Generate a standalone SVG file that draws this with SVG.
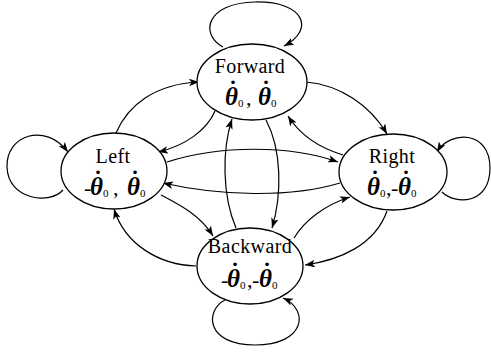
<svg xmlns="http://www.w3.org/2000/svg" width="491" height="352" viewBox="0 0 491 352">
<style>
.node ellipse{fill:#fff;stroke:#000;stroke-width:1.3}
.lbl{font-family:"Liberation Serif","Times New Roman",serif;font-size:20px;fill:#000;text-anchor:middle;letter-spacing:0.4px}
.st{font-family:"Liberation Serif","Times New Roman",serif;font-size:22px;fill:#000}
.th{font-weight:bold;font-style:italic;font-size:25px}
.sub{font-size:11px}
.dot{font-size:24px;font-weight:bold;text-anchor:middle}
.edge{fill:none;stroke:#000;stroke-width:1.2;marker-end:url(#ah)}
</style>
<defs>
<marker id="ah" markerUnits="userSpaceOnUse" markerWidth="11" markerHeight="8" refX="10" refY="3.75" orient="auto">
<path d="M0,0 L10,3.75 L0,7.5 L2.5,3.75 z" fill="#000"/>
</marker>
</defs>
<g id="connectors">
<path class="edge" d="M223,47 C200,35 205,3 255,2 C305,1 315,30 284,46"/>
<path class="edge" d="M63,190 C50,205 8,200 7,167 C6,135 45,122 68,152"/>
<path class="edge" d="M442,192 C455,205 490,205 490,168 C490,130 450,130 437,152"/>
<path class="edge" d="M225,300 C205,310 205,345 255,345 C305,345 310,310 283,298"/>
<path class="edge" d="M116,133 C128,105 155,84 199,82"/>
<path class="edge" d="M215,111 C207,130 185,146 158,152"/>
<path class="edge" d="M306,82 C340,85 370,105 387,134"/>
<path class="edge" d="M343,155 C320,148 300,135 288,116"/>
<path class="edge" d="M167,162 C220,145 290,145 338,162"/>
<path class="edge" d="M340,183 C290,198 220,196 163,183"/>
<path class="edge" d="M161,195 C180,205 200,215 213,236"/>
<path class="edge" d="M196,266 C160,265 125,245 114,209"/>
<path class="edge" d="M294,238 C305,220 325,205 350,197"/>
<path class="edge" d="M387,211 C375,245 340,260 305,265"/>
<path class="edge" d="M236,228 C222,195 222,150 232,119"/>
<path class="edge" d="M266,120 C282,150 282,195 272,228"/>
</g>
<g id="forward" class="node">
<ellipse cx="252" cy="82" rx="55" ry="38"/>
<text class="lbl" x="250" y="73">Forward</text>
<text class="st" y="105"><tspan class="th" x="225">θ</tspan><tspan class="dot" x="233" dy="-8">˙</tspan><tspan class="sub" x="238" dy="10">0</tspan><tspan x="246" dy="-2">,</tspan><tspan class="th" x="258">θ</tspan><tspan class="dot" x="266" dy="-8">˙</tspan><tspan class="sub" x="271" dy="10">0</tspan></text>
</g>
<g id="left" class="node">
<ellipse cx="114" cy="171" rx="53" ry="38"/>
<text class="lbl" x="113" y="163">Left</text>
<text class="st" y="195"><tspan x="84">-</tspan><tspan class="th" x="90">θ</tspan><tspan class="dot" x="98" dy="-8">˙</tspan><tspan class="sub" x="103" dy="10">0</tspan><tspan x="113" dy="-2">,</tspan><tspan class="th" x="127">θ</tspan><tspan class="dot" x="135" dy="-8">˙</tspan><tspan class="sub" x="140" dy="10">0</tspan></text>
</g>
<g id="right" class="node">
<ellipse cx="393" cy="172" rx="54" ry="38"/>
<text class="lbl" x="392" y="163">Right</text>
<text class="st" y="195"><tspan class="th" x="367">θ</tspan><tspan class="dot" x="375" dy="-8">˙</tspan><tspan class="sub" x="380" dy="10">0</tspan><tspan x="386" dy="-2">,</tspan><tspan x="391">-</tspan><tspan class="th" x="398">θ</tspan><tspan class="dot" x="406" dy="-8">˙</tspan><tspan class="sub" x="411" dy="10">0</tspan></text>
</g>
<g id="backward" class="node">
<ellipse cx="250" cy="266" rx="53" ry="38"/>
<text class="lbl" x="250" y="253">Backward</text>
<text class="st" y="287"><tspan x="221">-</tspan><tspan class="th" x="227">θ</tspan><tspan class="dot" x="235" dy="-8">˙</tspan><tspan class="sub" x="240" dy="10">0</tspan><tspan x="247" dy="-2">,</tspan><tspan x="252">-</tspan><tspan class="th" x="259">θ</tspan><tspan class="dot" x="267" dy="-8">˙</tspan><tspan class="sub" x="272" dy="10">0</tspan></text>
</g>
</svg>
